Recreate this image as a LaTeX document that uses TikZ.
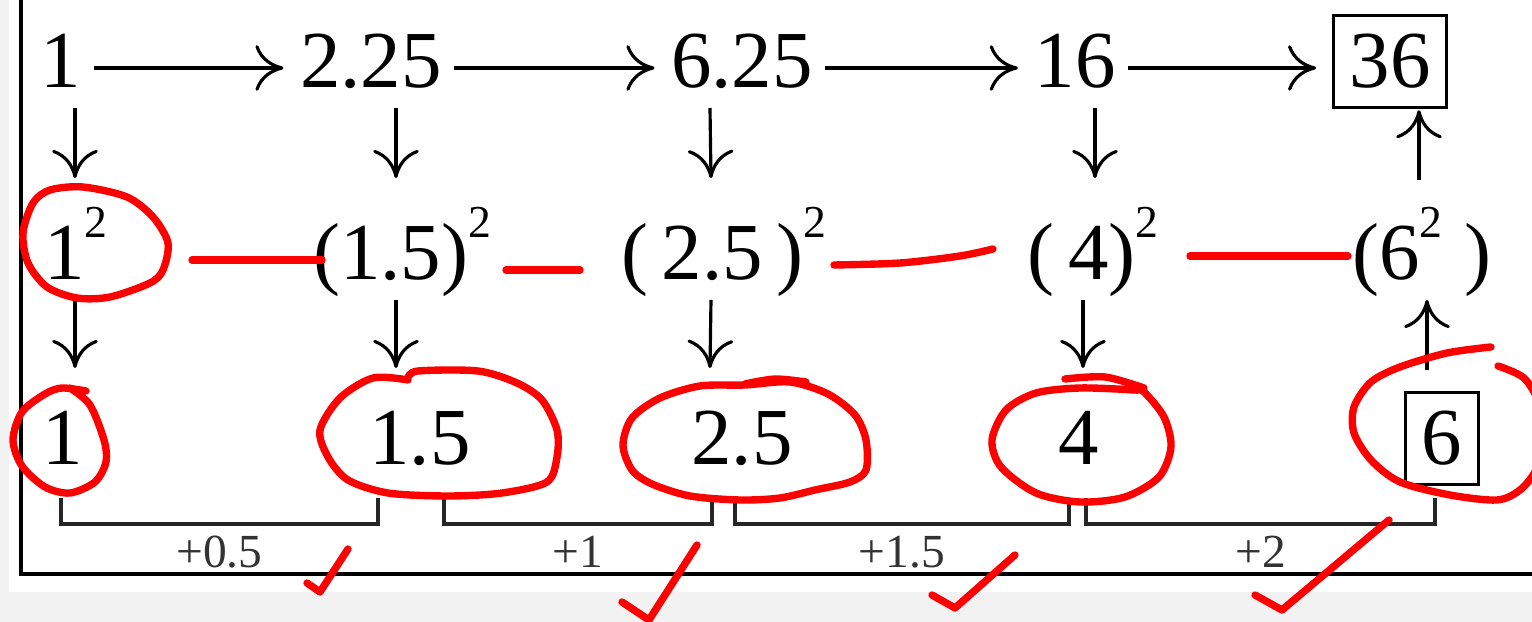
\documentclass[tikz,border=0pt]{standalone}
\usepackage{fontspec}
\setmainfont{Liberation Serif}
\usetikzlibrary{arrows.meta,calc}
\newcommand{\sqtwo}{\raisebox{12pt}{\fontsize{13}{13}\selectfont 2}}
\begin{document}
\begin{tikzpicture}[x=0.01cm,y=-0.01cm,
  every node/.style={font=\fontsize{23}{27}\selectfont,inner sep=0pt,anchor=base},
  boxed/.style={draw,line width=0.8pt,inner xsep=0.16cm,inner ysep=0.19cm},
  arr/.style={-{To[length=8pt,width=13pt]},line width=0.9pt},
  harr/.style={arr,shorten <=0.12cm,shorten >=0.16cm},
  brk/.style={line width=1pt,black!85},
  inc/.style={font=\fontsize{13.5}{14}\selectfont,text=black!80,anchor=center,yshift=-0.28cm},
  redpen/.style={draw=red,line width=2.1pt,line cap=round,line join=round}]
  \useasboundingbox (0,0) rectangle (1532,622);
  \fill[black!5] (0,0) rectangle (1532,622);
  \fill[white] (9,0) rectangle (1532,592);
  \draw[line width=1.3pt] (21,-10) -- (21,574) -- (1545,574);

  \node (A1) at (61,88){1};
  \node (A2) at (371,88){2.25};
  \node (A3) at (742,88){6.25};
  \node (A4) at (1075,88){16};
  \node[boxed] (A5) at (1390,88){36};

  \node (B1) at (76,280){1\sqtwo};
  \node (B2) at (402,280){(1.5)\sqtwo};
  \node (B3) at (724,280){(\,2.5\,)\sqtwo};
  \node (B4) at (1093,280){(\,4)\sqtwo};
  \node (B5) at (1422,280){(6\sqtwo\;)};

  \node (C1) at (63,465){1};
  \node (C2) at (420,465){1.5};
  \node (C3) at (742,465){2.5};
  \node (C4) at (1079,465){4};
  \node[boxed] (C5) at (1442,465){6};

  \draw ([yshift=0.2cm]A1.base east) edge[harr] ([yshift=0.2cm]A2.base west);
  \draw ([yshift=0.2cm]A2.base east) edge[harr] ([yshift=0.2cm]A3.base west);
  \draw ([yshift=0.2cm]A3.base east) edge[harr] ([yshift=0.2cm]A4.base west);
  \draw ([yshift=0.2cm]A4.base east) edge[harr] ([yshift=0.2cm]A5.base west);

  \draw ($(A1.base)+(14,20)$) edge[arr] ($(B1.base)+(-1,-102)$);
  \draw ($(A2.base)+(25,20)$) edge[arr] ($(B2.base)+(-6,-102)$);
  \draw ($(A3.base)+(-32,20)$) edge[arr] ($(B3.base)+(-13,-102)$);
  \draw ($(A4.base)+(20,20)$) edge[arr] ($(B4.base)+(2,-102)$);
  \draw ($(B5.base)+(-3,-100)$) edge[arr] ($(A5.south)+(29,1)$);

  \draw ($(B1.base)+(-1,20)$) edge[arr] ($(C1.base)+(12,-97)$);
  \draw ($(B2.base)+(-6,20)$) edge[arr] ($(C2.base)+(-24,-97)$);
  \draw ($(B3.base)+(-13,20)$) edge[arr] ($(C3.base)+(-32,-97)$);
  \draw ($(B4.base)+(-10,20)$) edge[arr] ($(C4.base)+(4,-97)$);
  \draw ($(C5.north)+(-15,-21)$) edge[arr] ($(B5.base)+(5,20)$);

  \draw[brk] ($(C1.base)+(-2,33)$) |- node[inc,pos=0.75]{+0.5} ($(C2.base)+(-42,59)$) -- ++(0,-26);
  \draw[brk] ($(C2.base)+(24,33)$) |- node[inc,pos=0.75]{+1} ($(C3.base)+(-30,59)$) -- ++(0,-26);
  \draw[brk] ($(C3.base)+(-7,33)$) |- node[inc,pos=0.75]{+1.5} ($(C4.base)+(-10,59)$) -- ++(0,-26);
  \draw[brk] ($(C4.base)+(7,33)$) |- node[inc,pos=0.75]{+2} ($(C5.base)+(-7,59)$) -- ++(0,-26);

  \draw[redpen] plot[smooth cycle] coordinates {(50,190) (83,187) (127,197) (153,217) (168,243) (163,270) (150,283) (110,297) (77,298) (47,287) (28,263) (23,233) (33,203)};
  \draw[redpen] (192,260) -- (322,260);
  \draw[redpen] (506,270) -- (580,270);
  \draw[redpen] plot[smooth] coordinates {(834,265) (900,263) (960,256) (993,249)};
  \draw[redpen] (1190,256) -- (1348,256);

  \draw[redpen] plot[smooth] coordinates {(70,388) (90,405) (104,440) (106,462) (95,482) (70,493) (45,487) (22,466) (13,440) (22,412) (45,394) (62,388) (86,391)};
  \draw[redpen] plot[smooth] coordinates {(408,380) (373,378) (340,398) (320,430) (328,457) (348,480) (388,493) (448,496) (502,493) (547,482) (557,457) (557,430) (542,400) (517,383) (478,371) (418,371) (408,378)};
  \draw[redpen] plot[smooth cycle] coordinates {(745,385) (700,386) (660,398) (632,418) (623,445) (632,470) (652,484) (690,496) (740,500) (780,498) (815,490) (850,482) (866,470) (866,440) (855,415) (828,394) (790,382)};
  \draw[redpen] plot[smooth] coordinates {(745,384) (775,379) (806,382)};
  \draw[redpen] plot[smooth cycle] coordinates {(1134,390) (1080,388) (1036,393) (1006,410) (992,440) (1001,467) (1036,493) (1080,502) (1125,497) (1159,477) (1171,447) (1164,417) (1144,392)};
  \draw[redpen] plot[smooth] coordinates {(1065,379) (1105,377) (1144,388)};
  \draw[redpen] plot[smooth] coordinates {(1491,347) (1447,353) (1400,367) (1371,382) (1354,407) (1354,433) (1371,460) (1400,482) (1450,495) (1497,500) (1520,490) (1536,470) (1545,440) (1540,405) (1524,378) (1498,366)};

  \draw[redpen] (307,583) -- (320,592) -- (348,549);
  \draw[redpen] (622,602) -- (649,620) -- (697,545);
  \draw[redpen] (932,595) -- (955,608) -- (1015,555);
  \draw[redpen] (1255,595) -- (1282,610) -- (1389,520);
\end{tikzpicture}
\end{document}
